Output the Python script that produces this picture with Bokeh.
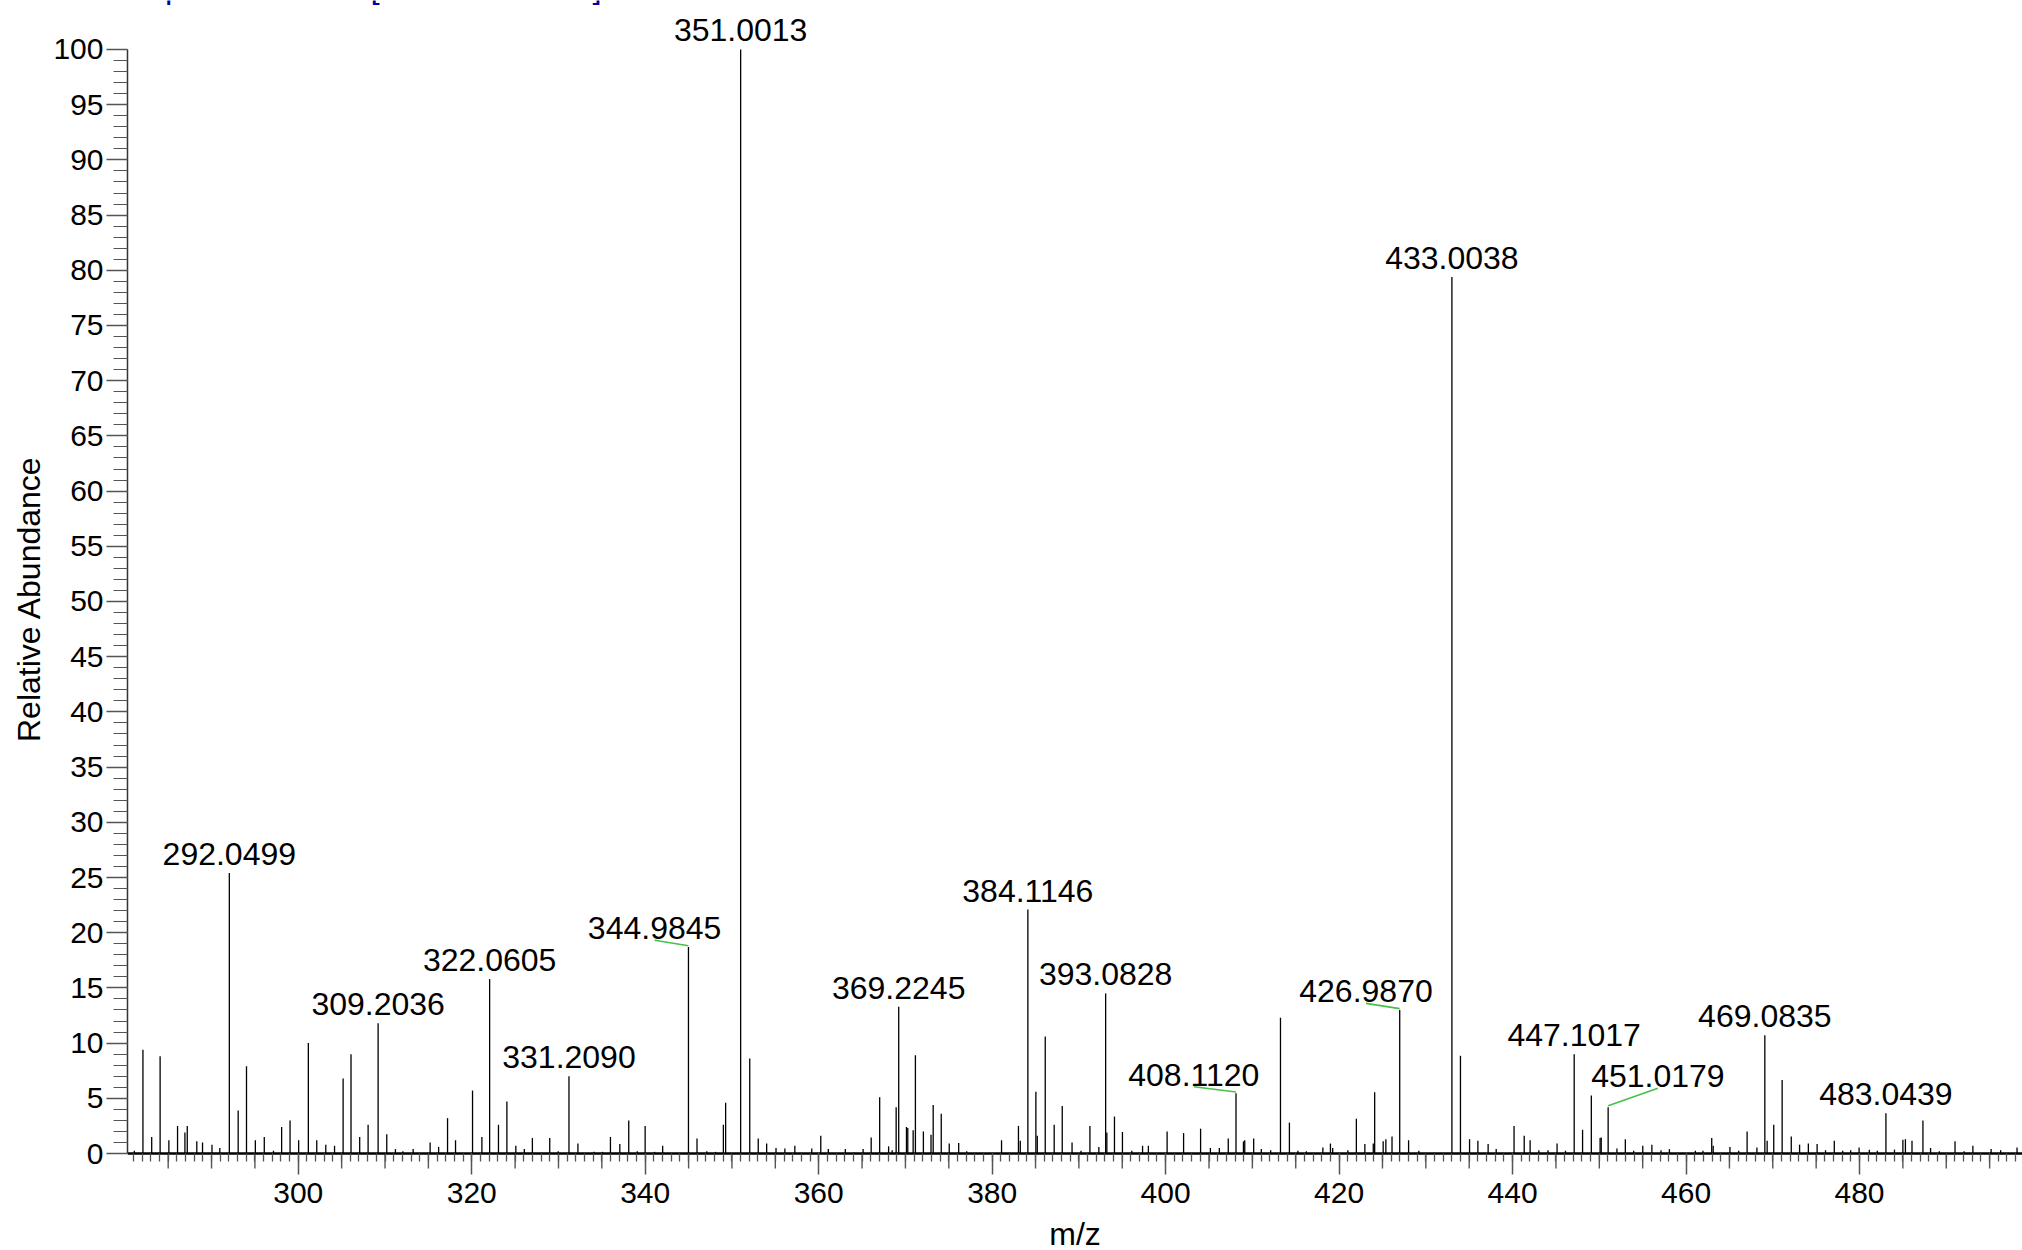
from bokeh.plotting import figure
from bokeh.models import FixedTicker, Label, ColumnDataSource
from bokeh.core.properties import value
from bokeh.embed import file_html
from bokeh.resources import INLINE

# Centroid peak list: m/z and relative abundance (%)
mz = [
    281.10, 282.09, 283.10, 284.07, 285.08, 286.08, 286.93, 287.20, 288.30, 288.96,
    290.05, 290.95, 292.0499, 293.07, 294.03, 295.05, 296.08, 297.14, 298.08, 299.05,
    300.04, 301.16, 302.13, 303.17, 304.18, 305.17, 306.08, 307.08, 308.05, 309.2036,
    310.20, 311.20, 312.06, 313.24, 315.20, 316.18, 317.21, 318.13, 320.09, 321.17,
    322.0605, 323.08, 324.05, 325.08, 326.06, 326.99, 328.99, 329.97, 331.2090, 332.24,
    334.09, 335.07, 335.99, 337.07, 338.10, 339.08, 339.99, 341.08, 342.01, 344.9845,
    345.97, 347.10, 348.10, 349.01, 349.27, 351.0013, 352.05, 353.03, 354.00, 355.08,
    356.10, 357.25, 359.20, 360.24, 361.11, 363.07, 364.10, 365.12, 366.05, 367.03,
    368.06, 368.47, 368.93, 369.2245, 370.12, 370.27, 370.89, 371.15, 372.07, 372.95,
    373.20, 374.13, 375.05, 376.14, 377.06, 381.08, 383.03, 383.24, 384.1146, 385.04,
    385.20, 386.12, 387.15, 388.08, 389.21, 390.24, 391.27, 392.30, 393.0828, 393.22,
    394.10, 395.02, 396.10, 397.34, 398.01, 400.17, 402.07, 404.03, 405.16, 406.19,
    407.22, 408.1120, 408.97, 409.12, 410.15, 411.03, 412.11, 413.24, 414.27, 415.25,
    416.23, 418.13, 419.00, 419.26, 421.01, 421.99, 422.97, 423.94, 424.10, 425.08,
    425.39, 426.10, 426.9870, 428.01, 429.19, 433.0038, 433.99, 435.04, 436.00, 437.18,
    438.11, 440.17, 441.34, 442.02, 443.03, 444.08, 445.13, 446.10, 447.1017, 448.07,
    449.08, 450.09, 450.22, 451.0179, 452.03, 453.00, 453.96, 455.01, 456.06, 457.11,
    458.08, 461.07, 461.95, 462.96, 463.13, 465.06, 466.07, 467.04, 468.17, 469.0835,
    469.35, 470.11, 471.08, 472.13, 473.09, 474.10, 475.11, 476.08, 477.09, 478.06,
    478.98, 479.95, 481.13, 482.05, 483.0439, 484.03, 485.00, 485.29, 486.05, 487.31,
    488.19, 489.20, 491.01, 492.06, 493.07, 495.17, 496.27, 498.16,
]
abundance = [
    0.25, 9.4, 1.5, 8.8, 1.2, 2.5, 1.9, 2.5, 1.1, 1.0,
    0.8, 0.5, 25.4, 3.9, 7.9, 1.2, 1.5, 0.25, 2.4, 3.0,
    1.2, 10.0, 1.2, 0.8, 0.7, 6.8, 9.0, 1.5, 2.6, 11.8,
    1.75, 0.4, 0.2, 0.4, 1.0, 0.6, 3.2, 1.2, 5.7, 1.5,
    15.8, 2.6, 4.7, 0.7, 0.4, 1.4, 1.4, 0.2, 7.0, 0.9,
    0.15, 0.15, 1.5, 0.85, 3.0, 0.2, 2.5, 0.15, 0.7, 18.7,
    1.35, 0.2, 0.15, 2.6, 4.6, 100.0, 8.6, 1.35, 0.9, 0.5,
    0.45, 0.7, 0.45, 1.6, 0.4, 0.4, 0.1, 0.4, 1.45, 5.1,
    0.65, 0.3, 4.2, 13.3, 2.4, 2.3, 2.1, 8.9, 2.0, 1.7,
    4.4, 3.6, 0.9, 0.95, 0.2, 1.2, 2.5, 1.15, 22.1, 5.6,
    1.6, 10.6, 2.6, 4.3, 1.0, 0.25, 2.5, 0.6, 14.5, 1.9,
    3.35, 1.95, 0.25, 0.7, 0.7, 2.0, 1.85, 2.25, 0.5, 0.5,
    1.35, 5.45, 1.1, 1.2, 1.35, 0.4, 0.3, 12.3, 2.8, 0.25,
    0.2, 0.55, 0.9, 0.5, 0.3, 3.15, 0.85, 0.9, 5.55, 1.1,
    1.3, 1.55, 13.0, 1.2, 0.25, 79.4, 8.85, 1.3, 1.15, 0.85,
    0.4, 2.5, 1.6, 1.2, 0.3, 0.3, 0.9, 0.25, 9.0, 2.15,
    5.25, 1.4, 1.45, 4.2, 0.45, 1.3, 0.25, 0.7, 0.8, 0.3,
    0.4, 0.25, 0.25, 1.4, 0.7, 0.6, 0.25, 2.0, 0.55, 10.7,
    1.15, 2.6, 6.65, 1.55, 0.8, 0.9, 0.85, 0.3, 1.15, 0.25,
    0.3, 0.55, 0.35, 0.25, 3.65, 0.35, 1.25, 1.3, 1.15, 3.0,
    0.5, 0.2, 1.1, 0.2, 0.7, 0.4, 0.3, 0.55,
]

# Peaks annotated with their accurate mass
labeled_mz = [
    292.0499, 309.2036, 322.0605, 331.2090, 344.9845, 351.0013, 369.2245, 384.1146,
    393.0828, 408.1120, 426.9870, 433.0038, 447.1017, 451.0179, 469.0835, 483.0439,
]

# Annotations moved aside (label centre m/z, label baseline %) with a leader line
moved_labels = {
    344.9845: (341.08, 19.40),
    408.1120: (403.25, 6.13),
    426.9870: (423.10, 13.68),
    451.0179: (456.75, 5.98),
}

x_ticks = [300, 320, 340, 360, 380, 400, 420, 440, 460, 480]
y_ticks = list(range(0, 101, 5))

X_START, X_END = 280.31, 498.79
Y_START, Y_END = -8.786, 104.438
FRAME_W, FRAME_H = 1895, 1250
PX_PER_UNIT = FRAME_H / (Y_END - Y_START)

FONT = "Liberation Sans"
TICK_GREY = "#555555"
TEXT_SHIFT = 11  # screen px that lifts the alphabetic baseline onto its anchor

p = figure(
    frame_width=FRAME_W, frame_height=FRAME_H,
    x_range=(X_START, X_END), y_range=(Y_START, Y_END),
    output_backend="svg", toolbar_location=None,
    min_border_left=127, min_border_right=0, min_border_top=0, min_border_bottom=0,
)
p.outline_line_color = None
p.xgrid.visible = False
p.ygrid.visible = False
p.background_fill_color = "white"
p.border_fill_color = "white"

# 5-unit m/z ticks hanging below the baseline
five_t = [t for t in range(285, 499, 5) if t % 20 != 0]
p.segment(x0=five_t, y0=[0] * len(five_t), x1=five_t, y1=[-15 / PX_PER_UNIT] * len(five_t),
          line_color=TICK_GREY, line_width=1.4)

# stick spectrum
p.segment(x0=mz, y0=[0] * len(mz), x1=mz, y1=abundance, line_color="black", line_width=1.3)

peak = dict(zip(mz, abundance))

# labels centred above their peaks
plain = [m for m in labeled_mz if m not in moved_labels]
src = ColumnDataSource(dict(
    x=plain, y=[peak[m] for m in plain], t=[f"{m:.4f}" for m in plain],
))
p.text(x="x", y="y", text="t", source=src, text_align="center", text_baseline="alphabetic",
       y_offset=-8 - TEXT_SHIFT, text_font=value(FONT), text_font_size="32px", text_color="black")

# labels set aside, joined to the peak by a green leader
moved = list(moved_labels)
msrc = ColumnDataSource(dict(
    x=[moved_labels[m][0] for m in moved], y=[moved_labels[m][1] for m in moved],
    t=[f"{m:.4f}" for m in moved],
    px=moved, py=[peak[m] + 0.12 for m in moved],
    ly=[moved_labels[m][1] - 0.08 for m in moved],
))
p.segment(x0="x", y0="ly", x1="px", y1="py", source=msrc, line_color="#46c046", line_width=1.6)
p.text(x="x", y="y", text="t", source=msrc, text_align="center", text_baseline="alphabetic",
       y_offset=-TEXT_SHIFT, text_font=value(FONT), text_font_size="32px", text_color="black")

# x axis sits on the zero line: labelled ticks every 20, unit minor ticks
xa = p.xaxis[0]
xa.fixed_location = 0
xa.ticker = FixedTicker(ticks=x_ticks, minor_ticks=list(range(281, 499)))
xa.major_tick_out = 21
xa.major_tick_in = 0
xa.minor_tick_out = 8
xa.minor_tick_in = 0
xa.major_tick_line_color = TICK_GREY
xa.minor_tick_line_color = TICK_GREY
xa.major_tick_line_width = 1.5
xa.minor_tick_line_width = 1.3
xa.axis_line_color = "black"
xa.axis_line_width = 2.5
xa.major_label_standoff = 8
xa.major_label_text_font = FONT
xa.major_label_text_font_size = "30px"
xa.major_label_text_color = "black"
xa.axis_label = "m/z"
xa.axis_label_text_font = FONT
xa.axis_label_text_font_size = "32px"
xa.axis_label_text_font_style = "normal"
xa.axis_label_text_color = "black"
xa.axis_label_standoff = 10

# y axis
ya = p.yaxis[0]
ya.ticker = FixedTicker(ticks=y_ticks, minor_ticks=list(range(0, 101)))
ya.bounds = (0, 100)
ya.major_tick_out = 21
ya.major_tick_in = 0
ya.minor_tick_out = 14
ya.minor_tick_in = 0
ya.major_tick_line_color = TICK_GREY
ya.minor_tick_line_color = TICK_GREY
ya.major_tick_line_width = 1.3
ya.minor_tick_line_width = 1.2
ya.axis_line_color = "#333333"
ya.axis_line_width = 1.5
ya.major_label_standoff = 3
ya.major_label_text_font = FONT
ya.major_label_text_font_size = "30px"
ya.major_label_text_color = "black"
ya.axis_label = "\u00a0" * 6 + "Relative Abundance"
ya.axis_label_text_font = FONT
ya.axis_label_text_font_size = "32px"
ya.axis_label_text_font_style = "normal"
ya.axis_label_text_color = "black"
ya.axis_label_standoff = 3

# scan header line along the top edge
p.add_layout(Label(
    x=270.9, y=Y_END + 14 / PX_PER_UNIT, text="FTMS - p ESI Full ms [50.00-1000.00]",
    text_font=FONT, text_font_size="33px", text_color="#0000a0",
    text_baseline="alphabetic",
))

open("out.html", "w").write(file_html(p, INLINE))
